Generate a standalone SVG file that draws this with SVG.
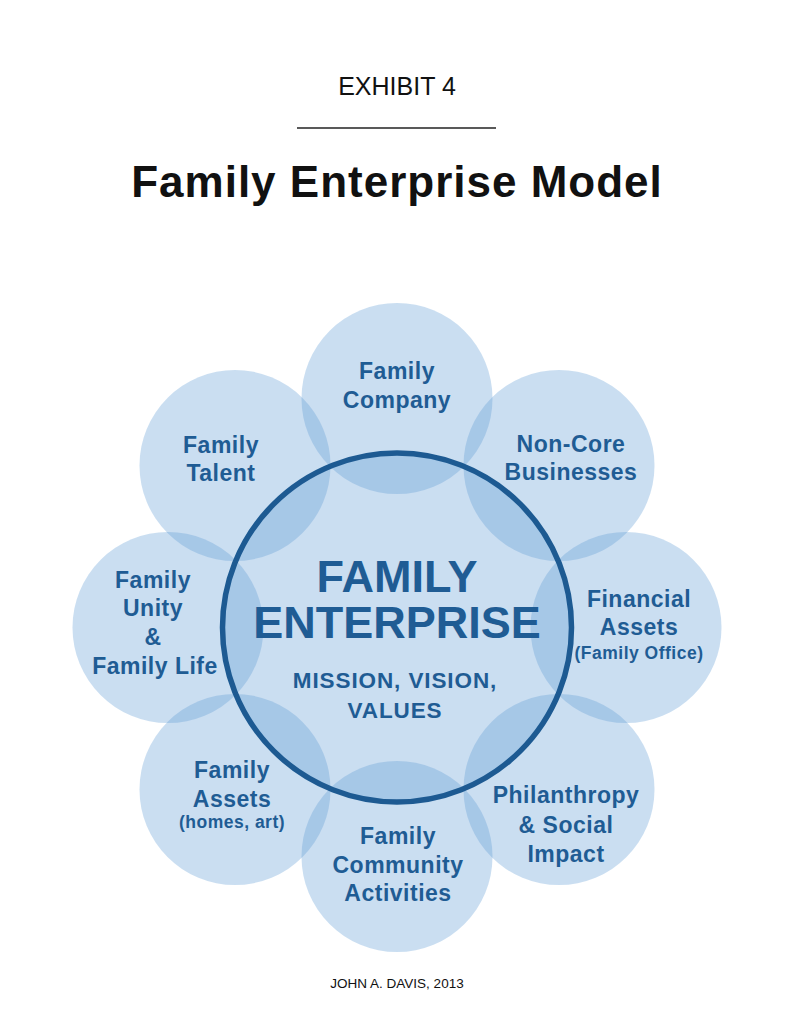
<svg xmlns="http://www.w3.org/2000/svg" width="795" height="1024" viewBox="0 0 795 1024">
<style>
.bub{fill:#5d9cd5;fill-opacity:0.33;}
.core{fill:#5d9cd5;fill-opacity:0.33;stroke:#1d5a92;stroke-width:5.5;stroke-opacity:1;}
.lbl{font-family:"Liberation Sans",Arial,sans-serif;font-weight:bold;font-size:23px;letter-spacing:0.5px;fill:#1f5c94;text-anchor:middle;}
.sm{font-size:17.5px;letter-spacing:0.5px;}
.big{font-family:"Liberation Sans",Arial,sans-serif;font-weight:bold;font-size:45px;fill:#1f5c94;text-anchor:middle;}
.mid{font-family:"Liberation Sans",Arial,sans-serif;font-weight:bold;font-size:22.5px;letter-spacing:0.9px;fill:#1f5c94;text-anchor:middle;}
.hdr{font-family:"Liberation Sans",Arial,sans-serif;fill:#111;text-anchor:middle;}
</style>
<rect width="795" height="1024" fill="#fff"/>
<g id="header">
<text class="hdr" x="397" y="95" font-size="25">EXHIBIT 4</text>
<line x1="297" y1="128" x2="496" y2="128" stroke="#222" stroke-width="1.6"/>
<text class="hdr" x="397" y="197" font-size="44" font-weight="bold" letter-spacing="1">Family Enterprise Model</text>
</g>
<g id="connectors"></g>
<g id="company"><circle class="bub" cx="397" cy="398.5" r="95.5"/>
<text class="lbl" x="397" y="379">Family</text><text class="lbl" x="397" y="408">Company</text></g>
<g id="noncore"><circle class="bub" cx="559" cy="465.5" r="95.5"/>
<text class="lbl" x="571" y="452">Non-Core</text><text class="lbl" x="571" y="480">Businesses</text></g>
<g id="financial"><circle class="bub" cx="626" cy="627.5" r="95.5"/>
<text class="lbl" x="639" y="607">Financial</text><text class="lbl" x="639" y="635">Assets</text><text class="lbl sm" x="639" y="659">(Family Office)</text></g>
<g id="philanthropy"><circle class="bub" cx="559" cy="789.5" r="95.5"/>
<text class="lbl" x="566" y="803">Philanthropy</text><text class="lbl" x="566" y="833">&amp; Social</text><text class="lbl" x="566" y="862">Impact</text></g>
<g id="community"><circle class="bub" cx="397" cy="856.5" r="95.5"/>
<text class="lbl" x="398" y="844">Family</text><text class="lbl" x="398" y="873">Community</text><text class="lbl" x="398" y="901">Activities</text></g>
<g id="assets"><circle class="bub" cx="235" cy="789.5" r="95.5"/>
<text class="lbl" x="232" y="778">Family</text><text class="lbl" x="232" y="807">Assets</text><text class="lbl sm" x="232" y="828">(homes, art)</text></g>
<g id="unity"><circle class="bub" cx="168" cy="627.5" r="95.5"/>
<text class="lbl" x="153" y="588">Family</text><text class="lbl" x="153" y="616">Unity</text><text class="lbl" x="153" y="645">&amp;</text><text class="lbl" x="155" y="674">Family Life</text></g>
<g id="talent"><circle class="bub" cx="235" cy="465.5" r="95.5"/>
<text class="lbl" x="221" y="453">Family</text><text class="lbl" x="221" y="481">Talent</text></g>
<g id="enterprise"><circle class="core" cx="397" cy="627.5" r="174.5"/>
<text class="big" x="397" y="592">FAMILY</text><text class="big" x="397" y="638">ENTERPRISE</text>
<text class="mid" x="395" y="688">MISSION, VISION,</text><text class="mid" x="395" y="718">VALUES</text></g>
<text class="hdr" x="397" y="988" font-size="13.5">JOHN A. DAVIS, 2013</text>
</svg>
